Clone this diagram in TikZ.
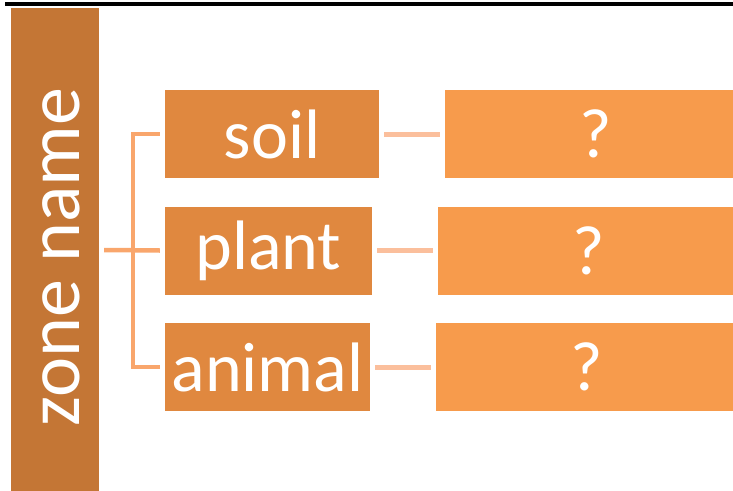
\documentclass[tikz,border=0pt]{standalone}
\usepackage{fontspec}
\setmainfont{Carlito}
\usepackage{tikz}
\usetikzlibrary{positioning}
\definecolor{barbrown}{HTML}{C47635}
\definecolor{kindorange}{HTML}{E0883F}
\definecolor{ansorange}{HTML}{F79B4C}
\definecolor{forkorange}{HTML}{F9A66C}
\definecolor{linkorange}{HTML}{FBBF9C}
\tikzset{
	boxnode/.style = {rectangle, inner sep=0pt, text centered, white,
		font=\fontsize{70}{80}\selectfont},
	zone_bar/.style = {rectangle, fill=barbrown, minimum width=88pt,
		minimum height=490pt},
	zone_txt/.style = {white, rotate=90, inner sep=0pt,
		font=\fontsize{76}{86}\selectfont},
	kind_box/.style = {boxnode, fill=kindorange, minimum height=88pt},
	ans_box/.style = {boxnode, fill=ansorange, minimum width=302pt,
		minimum height=88pt},
	fork_line/.style = {draw=forkorange, line width=4.5pt},
	link_line/.style = {draw=linkorange, line width=5pt,
		shorten <=5pt, shorten >=5pt}
}

\begin{document}
\begin{tikzpicture}[x=1pt,y=-1pt]
\clip (0,0) rectangle (733,490);
\draw [line width=4pt] (5,4) -- (733,4);
\node [zone_bar] (zone) at (55,253) {};
\node [zone_txt] (zonetxt) at (61,257) {zone name};
% middle column
\node [kind_box, minimum width=214pt] (soil) at (272,134) {soil};
\node [kind_box, minimum width=207pt] (plant) at (268.5,250.5) {plant};
\node [kind_box, minimum width=205pt] (animal) at (267.5,367) {animal};
% right column
\node [ans_box] (ans1) at (596,134) {?};
\node [ans_box] (ans2) at (589,250.5) {?};
\node [ans_box] (ans3) at (587,367) {?};
% connectors
\coordinate (fork) at (133,250);
\draw [fork_line] ([xshift=5pt]zone.east |- fork) -- ([xshift=-5pt]plant.west);
\draw [fork_line] ([xshift=-5pt]soil.west) -| (fork)
	|- ([xshift=-5pt]animal.west);
\draw [link_line] (soil) -- (ans1);
\draw [link_line] (plant) -- (ans2);
\draw [link_line] (animal) -- (ans3);
\end{tikzpicture}
\end{document}
